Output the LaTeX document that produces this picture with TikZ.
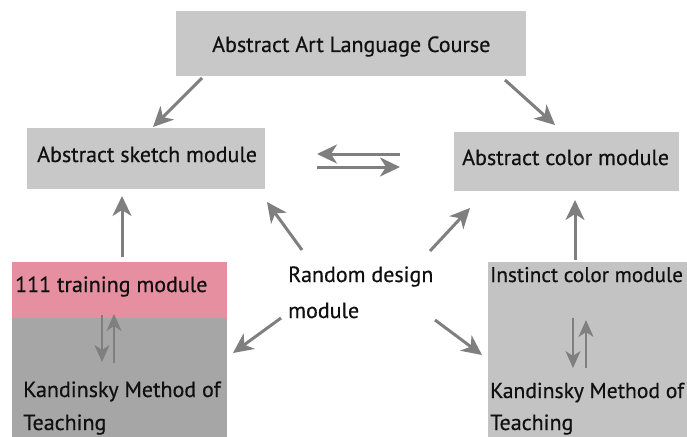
\documentclass[tikz,border=0pt]{standalone}
\usepackage{fontspec}
\setmainfont[FakeBold=0.5]{PT Sans}
\usetikzlibrary{arrows.meta}
\definecolor{boxgray}{HTML}{C8C8C8}
\definecolor{rbox}{HTML}{C3C3C3}
\definecolor{dkgray}{HTML}{A6A6A6}
\definecolor{pinkbox}{HTML}{E68FA1}
\definecolor{arrgray}{HTML}{7F7F7F}
\definecolor{txt}{HTML}{101010}
\begin{document}
\begin{tikzpicture}[x=1pt,y=-1pt,
  box/.style={fill=#1, draw=none, inner sep=0pt, anchor=north west},
  lbl/.style={anchor=base west, inner sep=0pt, text=txt, font=\fontsize{22}{26}\selectfont},
  bigarrow/.style={draw=arrgray, line width=3pt, -{Stealth[length=20pt,width=19pt,inset=6pt]}},
  smallarrow/.style={draw=arrgray, line width=2.2pt, -{Stealth[length=17pt,width=15pt,inset=5pt]}}
]
\useasboundingbox (0,0) rectangle (687,436);
\clip (0,0) rectangle (687,436);
\fill[white] (0,0) rectangle (687,436);

% boxes
\node[box=boxgray, minimum width=350pt, minimum height=65pt] (topbox) at (176,11) {};
\node[box=boxgray, minimum width=238pt, minimum height=61pt] (sketchbox) at (27,128) {};
\node[box=boxgray, minimum width=225pt, minimum height=59pt] (colorbox) at (454,132) {};
\node[box=pinkbox, minimum width=215pt, minimum height=56pt] (pinkpart) at (12,262) {};
\node[box=dkgray, minimum width=215pt, minimum height=130pt] (graypart) at (12,318) {};
\node[box=rbox, minimum width=210pt, minimum height=190pt] (rightbox) at (488,262) {};

% labels
\node[lbl] (ttop) at (212,52) {Abstract Art Language Course};
\node[lbl] (tsketch) at (37,162) {Abstract sketch module};
\node[lbl] (tcolor) at (462,165) {Abstract color module};
\node[lbl] (trd1) at (288,282) {Random design};
\node[lbl] (trd2) at (288,318) {module};
\node[lbl] (ttrain) at (15,292) {111 training module};
\node[lbl] (tkl1) at (23,397) {Kandinsky Method of};
\node[lbl] (tkl2) at (23,430) {Teaching};
\node[lbl, font=\fontsize{21.2}{26}\selectfont] (tinst) at (490,282) {Instinct color module};
\node[lbl, font=\fontsize{21.6}{26}\selectfont] (tkr1) at (490,398) {Kandinsky Method of};
\node[lbl] (tkr2) at (490,430) {Teaching};

% connector end points
\coordinate (a1s) at (202,78);  \coordinate (a1e) at (153,127);
\coordinate (a2s) at (505,80);  \coordinate (a2e) at (555,125);
\coordinate (d1s) at (400,154); \coordinate (d1e) at (317,154);
\coordinate (d2s) at (317,167); \coordinate (d2e) at (400,167);
\coordinate (u1s) at (122,257); \coordinate (u1e) at (122,196);
\coordinate (nws) at (302,250); \coordinate (nwe) at (267,202);
\coordinate (nes) at (430,251); \coordinate (nee) at (470,208);
\coordinate (u2s) at (575,260); \coordinate (u2e) at (575,200);
\coordinate (sws) at (281,318); \coordinate (swe) at (233,353);
\coordinate (ses) at (435,320); \coordinate (see) at (482,355);
\coordinate (l1s) at (102,315); \coordinate (l1e) at (102,362);
\coordinate (l2s) at (114,363); \coordinate (l2e) at (114,314);
\coordinate (r1s) at (573,318); \coordinate (r1e) at (573,368);
\coordinate (r2s) at (586,368); \coordinate (r2e) at (586,320);

\draw[bigarrow] (a1s) -- (a1e);
\draw[bigarrow] (a2s) -- (a2e);
\draw[bigarrow] (d1s) -- (d1e);
\draw[bigarrow] (d2s) -- (d2e);
\draw[bigarrow] (u1s) -- (u1e);
\draw[bigarrow] (nws) -- (nwe);
\draw[bigarrow] (nes) -- (nee);
\draw[bigarrow] (u2s) -- (u2e);
\draw[bigarrow] (sws) -- (swe);
\draw[bigarrow] (ses) -- (see);
\draw[smallarrow] (l1s) -- (l1e);
\draw[smallarrow] (l2s) -- (l2e);
\draw[smallarrow] (r1s) -- (r1e);
\draw[smallarrow] (r2s) -- (r2e);
\end{tikzpicture}
\end{document}
